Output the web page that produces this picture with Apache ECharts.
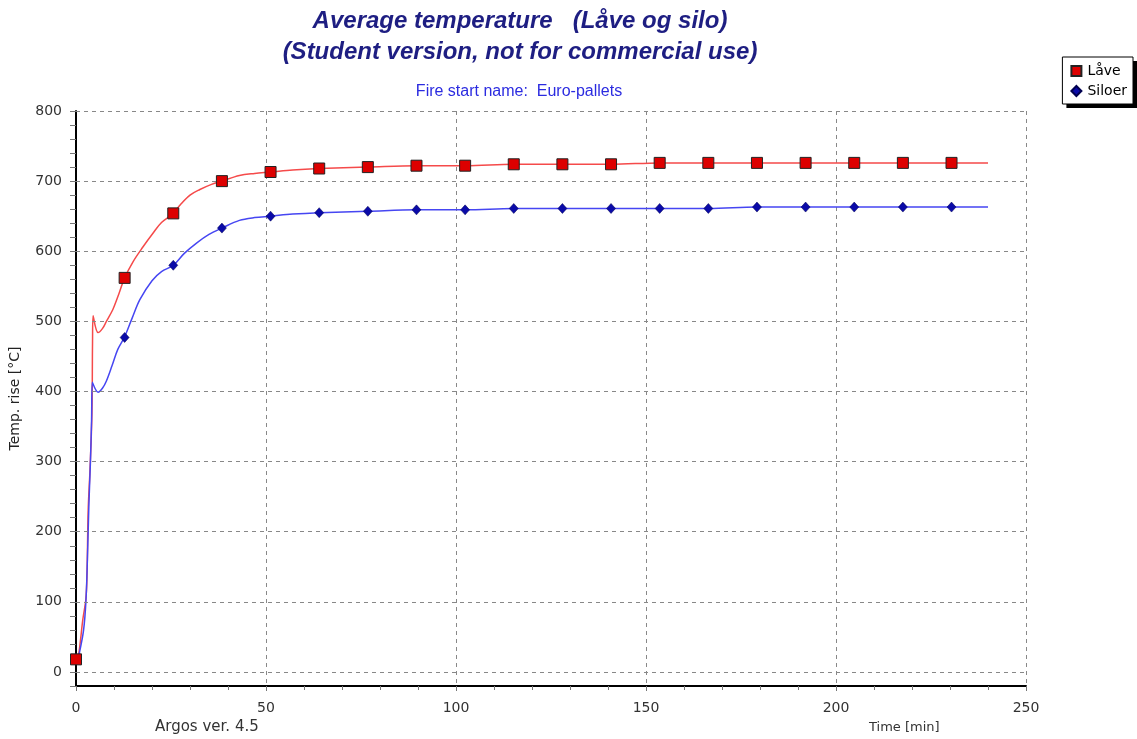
<!DOCTYPE html>
<html>
<head>
<meta charset="utf-8">
<script src="https://cdn.jsdelivr.net/npm/echarts@6/dist/echarts.min.js"></script>
<style>html,body{margin:0;padding:0;background:#fff}#c{width:1137px;height:739px}</style>
</head>
<body>
<div id="c"></div>
<script>
// Continuous curves (time in minutes, temperature rise in °C)
var laveTime = [0, 0.5, 1, 1.8, 2.6, 2.9, 3.2, 3.7, 4.2, 4.35, 4.5, 5.8, 7, 8, 9.7, 11, 12.8, 15, 17.6, 20.3, 22.5, 25.6, 27.4, 30, 32.6, 35.5, 38.4, 43, 47, 51.2, 57, 64, 76.8, 89.6, 102.4, 115.2, 128, 140.8, 153.6, 166.4, 179.2, 192, 204.8, 217.6, 230.4, 240];
var laveTemp = [18, 20, 37, 75, 104, 140, 230, 290, 370, 470, 508, 484, 490, 500, 517, 535, 562, 585, 606, 626, 641, 654, 666, 680, 688, 695, 700, 708, 711, 713, 716, 718, 720, 722, 722, 724, 724, 724, 726, 726, 726, 726, 726, 726, 726, 726];
var siloTime = [0, 0.5, 1, 2, 2.6, 3, 3.4, 3.8, 4.1, 4.3, 5.8, 7, 8, 9.5, 11, 12.8, 14.8, 16.8, 20, 22.5, 25.6, 28.5, 31.8, 35, 38.4, 43, 47, 51.2, 57, 64, 76.8, 89.6, 102.4, 115.2, 128, 140.8, 153.6, 166.4, 179.2, 192, 204.8, 217.6, 230.4, 240];
var siloTemp = [18, 20, 30, 60, 100, 160, 240, 300, 360, 413, 399, 405, 415, 437, 460, 478, 505, 531, 558, 571, 580, 597, 612, 624, 633, 644, 648, 650, 653, 655, 657, 659, 659, 661, 661, 661, 661, 661, 663, 663, 663, 663, 663, 663];
// Marker points
var markTime = [0, 12.8, 25.6, 38.4, 51.2, 64, 76.8, 89.6, 102.4, 115.2, 128, 140.8, 153.6, 166.4, 179.2, 192, 204.8, 217.6, 230.4];
var laveMarks = [18, 562, 654, 700, 713, 718, 720, 722, 722, 724, 724, 724, 726, 726, 726, 726, 726, 726, 726];
var siloMarks = [18, 477, 580, 633, 650, 655, 657, 659, 659, 661, 661, 661, 661, 661, 663, 663, 663, 663, 663];
// Axis ticks
var yGridValues = [0, 100, 200, 300, 400, 500, 600, 700, 800];

function pairs(xs, ys) { return xs.map(function (x, i) { return [x, ys[i]]; }); }

var chart = echarts.init(document.getElementById('c'), null, {renderer: 'canvas'});
var font = '"Liberation Sans", Arial, sans-serif';
var sfont = '"DejaVu Sans", sans-serif';
var dash = [4, 4];
var legendBase = {
  data: ['Låve', 'Siloer'],
  orient: 'vertical', right: 4, top: 57,
  itemWidth: 10, itemHeight: 10, itemGap: 6,
  padding: [7, 6, 6, 8]
};
chart.setOption({
  animation: false,
  backgroundColor: '#fff',
  title: [{
    text: 'Average temperature   (Låve og silo)\n(Student version, not for commercial use)',
    left: 515, top: 1, textAlign: 'center',
    textStyle: {fontFamily: font, fontSize: 24, fontStyle: 'italic', fontWeight: 'bold', color: '#1e1e82', lineHeight: 31}
  }, {
    text: 'Fire start name:  Euro-pallets',
    left: 514, top: 79, textAlign: 'center',
    textStyle: {fontFamily: font, fontSize: 16, fontWeight: 'normal', color: '#2b2be0'}
  }],
  legend: [
    Object.assign({}, legendBase, {
      backgroundColor: '#fff', borderWidth: 0,
      shadowColor: '#000', shadowBlur: 0, shadowOffsetX: 4, shadowOffsetY: 4,
      itemStyle: {opacity: 0},
      textStyle: {fontFamily: sfont, fontSize: 14, color: 'rgba(0,0,0,0)', padding: [0, 0, 0, 1]}
    }),
    Object.assign({}, legendBase, {
      backgroundColor: 'transparent', borderColor: '#000', borderWidth: 1,
      textStyle: {fontFamily: sfont, fontSize: 14, color: '#000', padding: [0, 0, 0, 1]}
    })
  ],
  grid: {left: 76, right: 111, top: 111, bottom: 53, containLabel: false},
  xAxis: {
    type: 'value', min: 0, max: 250, interval: 50,
    axisLine: {show: true, onZero: false, lineStyle: {color: '#000', width: 2}},
    axisTick: {show: true, length: 5, lineStyle: {color: '#777'}},
    minorTick: {show: true, splitNumber: 5, length: 4, lineStyle: {color: '#777'}},
    axisLabel: {fontFamily: sfont, fontSize: 14, color: '#333', margin: 15},
    splitLine: {show: true, lineStyle: {color: '#888', type: dash}}
  },
  yAxis: {
    type: 'value', min: -20, max: 800, interval: 20,
    name: 'Temp. rise [°C]', nameLocation: 'middle', nameGap: 54,
    nameTextStyle: {fontFamily: sfont, fontSize: 14, color: '#222'},
    axisLine: {show: true, onZero: false, lineStyle: {color: '#000', width: 2}},
    axisTick: {show: true, length: 6, lineStyle: {color: '#777'}},
    axisLabel: {
      fontFamily: sfont, fontSize: 14, color: '#333', margin: 14,
      formatter: function (v) { return v % 100 === 0 ? String(v) : ''; }
    },
    splitLine: {show: false}
  },
  graphic: [{
    type: 'text', left: 155, top: 720,
    style: {text: 'Argos ver. 4.5', font: '15px ' + sfont, fill: '#333'}
  }, {
    type: 'text', left: 869, top: 721,
    style: {text: 'Time [min]', font: '13px ' + sfont, fill: '#333'}
  }],
  series: [{
    name: 'Låve line', type: 'line', data: pairs(laveTime, laveTemp),
    showSymbol: false, smooth: 0.35,
    lineStyle: {color: '#f54a4a', width: 1.5}, z: 3, silent: true,
    markLine: {
      silent: true, symbol: 'none', label: {show: false},
      lineStyle: {color: '#888', type: dash, width: 1},
      data: yGridValues.map(function (v) { return {yAxis: v}; })
    }
  }, {
    name: 'Siloer line', type: 'line', data: pairs(siloTime, siloTemp),
    showSymbol: false, smooth: 0.35,
    lineStyle: {color: '#4646f2', width: 1.5}, z: 3, silent: true
  }, {
    name: 'Siloer', type: 'scatter', data: pairs(markTime, siloMarks),
    symbol: 'diamond', symbolSize: [9, 10],
    itemStyle: {color: '#0a0aa8', borderColor: '#000050', borderWidth: 0.5, opacity: 1}, z: 5
  }, {
    name: 'Låve', type: 'scatter', data: pairs(markTime, laveMarks),
    symbol: 'rect', symbolSize: 11,
    itemStyle: {color: '#dd0000', borderColor: '#222', borderWidth: 1, opacity: 1}, z: 6
  }]
});
</script>
</body>
</html>
